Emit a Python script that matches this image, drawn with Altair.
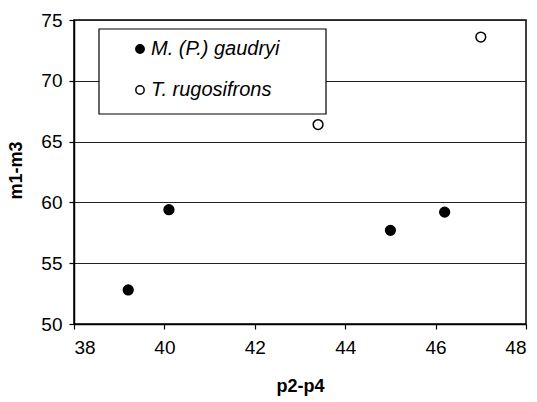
import altair as alt
import pandas as pd

species = ["M. (P.) gaudryi"] * 4 + ["T. rugosifrons"] * 2
p2_p4 = [39.2, 40.1, 45.0, 46.2, 43.4, 47.0]
m1_m3 = [52.8, 59.4, 57.7, 59.2, 66.4, 73.6]
x_ticks = [38, 40, 42, 44, 46, 48]
y_ticks = [50, 55, 60, 65, 70, 75]
legend_order = ["M. (P.) gaudryi", "T. rugosifrons"]

df = pd.DataFrame({"species": species, "p2-p4": p2_p4, "m1-m3": m1_m3})

FONT = "Liberation Sans"

box = alt.Chart(pd.DataFrame({"k": [0]})).mark_rect(
    fill="white", stroke="black", strokeWidth=1.2
).encode(
    x=alt.value(25), x2=alt.value(252), y=alt.value(9), y2=alt.value(94)
)

points = alt.Chart(df).mark_point(
    filled=True, stroke="black", strokeWidth=1.5, size=95, opacity=1, shape="circle"
).encode(
    x=alt.X("p2-p4:Q", title="p2-p4",
            scale=alt.Scale(domain=[38, 48], nice=False, zero=False),
            axis=alt.Axis(values=x_ticks, grid=False, labelPadding=9,
                          titleY=62, titleBaseline="middle")),
    y=alt.Y("m1-m3:Q", title="m1-m3",
            scale=alt.Scale(domain=[50, 75], nice=False, zero=False),
            axis=alt.Axis(values=y_ticks, grid=True, labelPadding=7,
                          titleX=-58, titleY=150, titleAngle=270,
                          titleBaseline="middle", titleAlign="center")),
    fill=alt.Fill("species:N",
                  scale=alt.Scale(domain=legend_order, range=["black", "white"]),
                  legend=alt.Legend(title=None, orient="none", legendX=56, legendY=19,
                                    labelFont=FONT, labelFontSize=20,
                                    labelFontStyle="italic", labelColor="black",
                                    labelOffset=1, rowPadding=21, padding=0,
                                    symbolType="circle", symbolSize=70,
                                    symbolStrokeColor="black", symbolStrokeWidth=1.5)),
)

chart = alt.layer(box, points).properties(
    width=452, height=304,
    padding={"left": 74, "top": 20, "right": 11, "bottom": 78},
    autosize=alt.AutoSizeParams(type="none"),
    background="white",
).configure_view(
    stroke="black", strokeWidth=1.5
).configure_axis(
    labelFont=FONT, labelFontSize=19, labelColor="black",
    titleFont=FONT, titleFontSize=18, titleFontWeight="bold", titleColor="black",
    domainColor="black", domainWidth=1.5, tickColor="black", tickSize=5, tickWidth=1.2,
    gridColor="#222222", gridWidth=1.2, gridOpacity=1,
)

chart.save("out.html", embed_options={"renderer": "svg", "actions": False})
